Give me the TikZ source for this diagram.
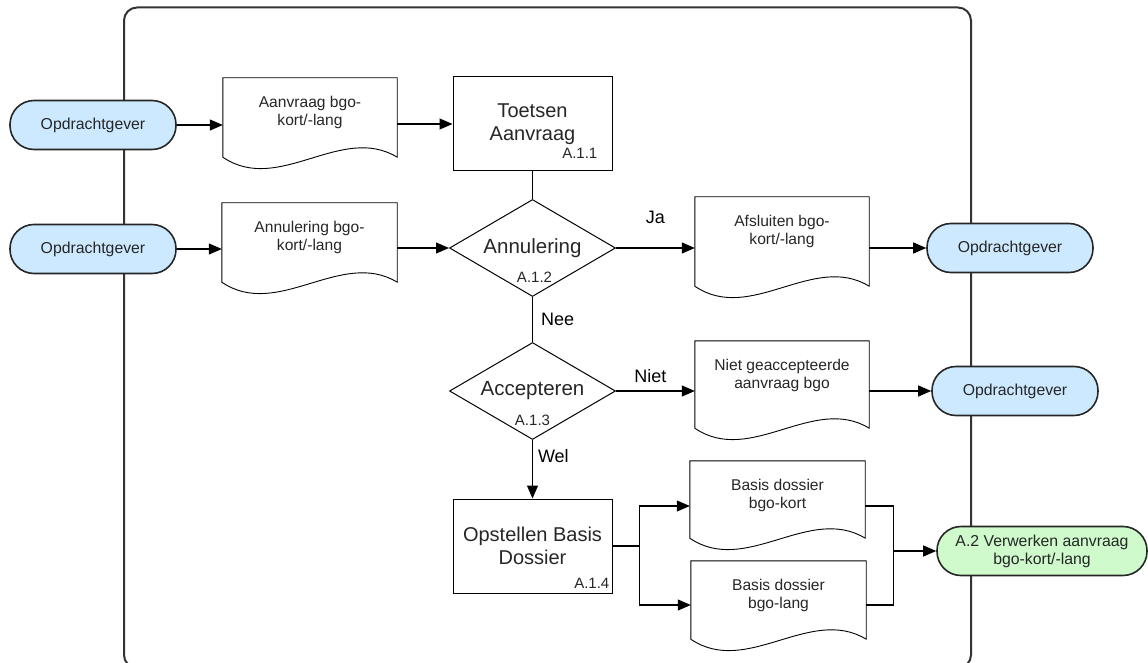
\documentclass[tikz,border=0pt]{standalone}
\usepackage{fontspec}
\setmainfont{Liberation Sans}
\usetikzlibrary{calc,arrows.meta,shapes.geometric,positioning}
\definecolor{opblue}{RGB}{204,233,255}
\definecolor{opgreen}{RGB}{206,250,204}
\tikzset{
    term/.style = {draw=black!85, line width=1.6pt, fill=opblue, rounded corners=24pt,
        minimum width=166pt, minimum height=49pt, align=center, text=black!85,
        font=\fontsize{15.8}{18}\selectfont},
    proc/.style = {draw, rectangle, line width=1pt,
        minimum width=159pt, minimum height=94pt, align=center, text=black!85,
        font=\fontsize{20}{23}\selectfont},
    dec/.style = {draw, diamond, aspect=1.67, inner sep=0pt, line width=1pt,
        minimum width=166pt, minimum height=97pt, text=black!85,
        font=\fontsize{20.5}{23}\selectfont},
    doc/.style = {minimum width=175pt, minimum height=68pt, inner sep=0pt,
        align=center, text=black!85, font=\fontsize{15.6}{18}\selectfont},
    docline/.style = {draw, line width=0.9pt},
    code/.style = {inner sep=0pt, text=black!85, font=\fontsize{15}{16}\selectfont},
    lbl/.style = {inner sep=0pt, font=\fontsize{18}{20}\selectfont},
    arr/.style = {draw, -{Triangle[length=13pt,width=11pt]}, line width=1.1pt},
    line/.style = {draw, line width=1.1pt},
    frame/.style = {draw=black!80, line width=2pt, rounded corners=13pt}
}
\begin{document}
\begin{tikzpicture}[x=1pt,y=-1pt]
    \useasboundingbox (0,0) rectangle (1148,663);
    \draw[frame] (124,7.5) rectangle (971,668);

    % opdrachtgevers
    \node[term] (op1) at (93,125) {Opdrachtgever};
    \node[term] (op2) at (93,249) {Opdrachtgever};
    \node[term] (op3) at (1010,248) {Opdrachtgever};
    \node[term] (op4) at (1015,391) {Opdrachtgever};
    \node[term, fill=opgreen, minimum width=210pt] (verw) at (1042,551) {A.2 Verwerken aanvraag\\bgo-kort/-lang};

    % documenten
    \node[doc, minimum width=174pt] (aanvr) at (310,112) {Aanvraag bgo-\\kort/-lang};
    \node[doc] (annul) at (309.5,237) {Annulering bgo-\\kort/-lang};
    \node[doc, minimum width=174pt] (afsl) at (782,231) {Afsluiten bgo-\\kort/-lang};
    \node[doc, minimum width=174pt] (niet) at (782,375) {Niet geaccepteerde\\aanvraag bgo};
    \node[doc] (kort) at (777.5,495) {Basis dossier\\bgo-kort};
    \node[doc] (lang) at (778.5,595) {Basis dossier\\bgo-lang};
    \foreach \n/\e in {aanvr/11,annul/11,afsl/21,niet/19,kort/9,lang/10}
        \draw[docline] ($(\n.south west)+(0,\e)$) -- (\n.north west) -- (\n.north east)
            -- ($(\n.south east)+(0,\e)$) .. controls +(-56,-34) and +(56,38) .. ($(\n.south west)+(0,\e)$) -- cycle;

    % processen en beslissingen
    \node[proc] (toets) at (532.5,124) {Toetsen\\Aanvraag};
    \node[code, anchor=east] (c11) at ($(toets.south east)+(-15,-18)$) {A.1.1};
    \node[dec] (annulq) at (532.5,248) {Annulering};
    \node[code] (c12) at ($(annulq)+(2,29)$) {A.1.2};
    \node[dec] (acceptq) at (532.5,391) {Accepteren};
    \node[code] (c13) at ($(acceptq)+(0,29)$) {A.1.3};
    \node[proc] (opstel) at (532.5,546) {Opstellen Basis\\Dossier};
    \node[code, anchor=east] (c14) at ($(opstel.south east)+(-3,-10)$) {A.1.4};

    \coordinate (split) at ($(opstel.east)+(27,0)$);
    \coordinate (join) at ($(verw.west)+(-43,0)$);

    % verbindingen
    \draw[arr] (op1) -- (op1 -| aanvr.west);
    \draw[arr] (aanvr.east |- toets) -- (toets);
    \draw[line] (toets) -- (annulq);
    \draw[arr] (op2) -- (op2 -| annul.west);
    \draw[arr] (annul.east |- annulq) -- (annulq);
    \draw[arr] (annulq) -- (annulq -| afsl.west) node[lbl, midway, yshift=31pt] {Ja};
    \draw[arr] (afsl.east |- op3) -- (op3);
    \draw[line] (annulq) -- (acceptq) node[lbl, midway, anchor=west, xshift=8pt] {Nee};
    \draw[arr] (acceptq) -- (acceptq -| niet.west) node[lbl, midway, xshift=-5pt, yshift=15pt] {Niet};
    \draw[arr] (niet.east |- op4) -- (op4);
    \draw[arr] (acceptq) -- (opstel) node[lbl, pos=.28, anchor=west, xshift=5pt] {Wel};
    \draw[line] (opstel) -- (split);
    \draw[arr] (split) |- ($(kort.west)+(0,11)$);
    \draw[arr] (split) |- ($(lang.west)+(0,10)$);
    \draw[line] ($(kort.east)+(0,11)$) -| (join);
    \draw[line] ($(lang.east)+(0,10)$) -| (join);
    \draw[arr] (join) -- (verw);
\end{tikzpicture}
\end{document}
